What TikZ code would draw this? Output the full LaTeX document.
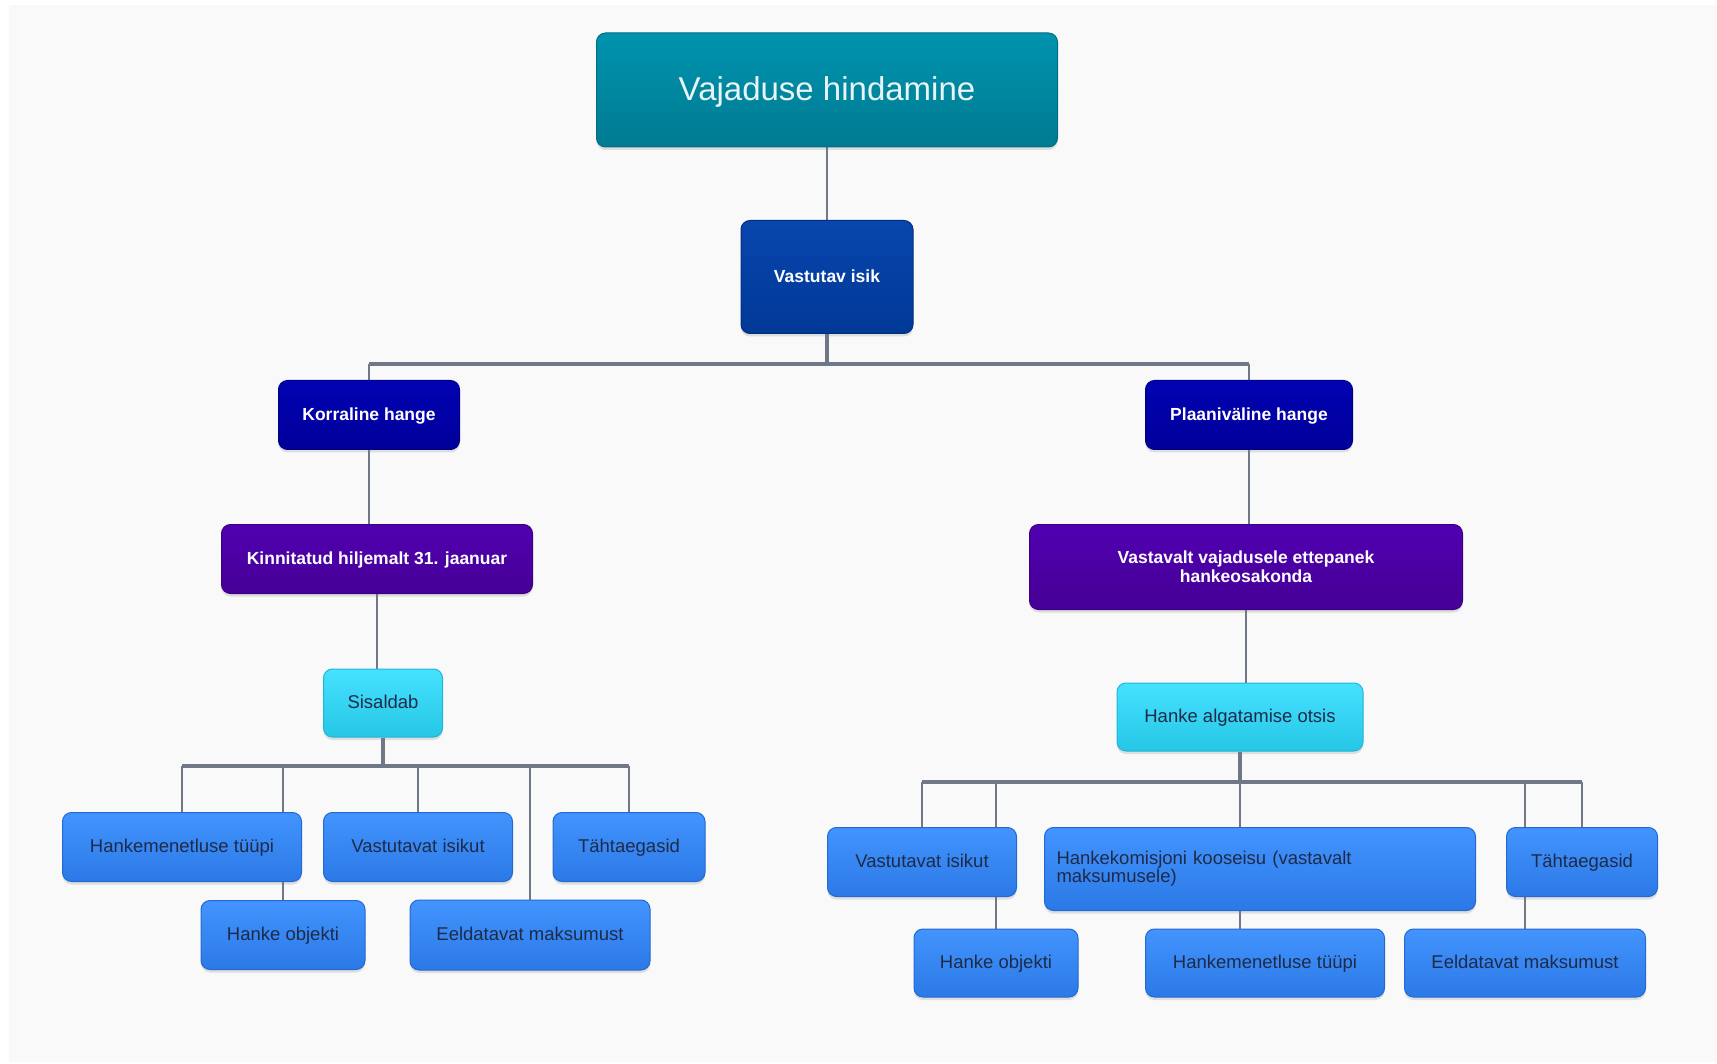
\documentclass[tikz,border=0pt]{standalone}
\usepackage{fontspec}
\setmainfont{Liberation Sans}
\usepackage{xcolor}
\usetikzlibrary{shadows}

\definecolor{paper}{HTML}{F9F9F9}
\definecolor{wire}{HTML}{707888}
\definecolor{darktext}{HTML}{1E2B48}

\pgfdeclarelayer{paperlayer}
\pgfdeclarelayer{wires}
\pgfsetlayers{paperlayer,wires,main}

\tikzset{
  box/.style={rounded corners=9pt, inner sep=0pt, align=center, line width=1pt,
    text depth=0.42ex,
    drop shadow={opacity=0.22, shadow xshift=0pt, shadow yshift=-3pt}},
  twolines/.style={text depth=},
  titlebox/.style={box, top color={rgb,255:red,0;green,147;blue,174},
    bottom color={rgb,255:red,0;green,123;blue,146}, draw={rgb,255:red,0;green,110;blue,131},
    text={rgb,255:red,232;green,244;blue,246}, font=\fontsize{33}{40}\selectfont},
  personbox/.style={box, top color={rgb,255:red,8;green,70;blue,174},
    bottom color={rgb,255:red,0;green,56;blue,150}, draw={rgb,255:red,0;green,48;blue,127},
    text=white, font=\bfseries\fontsize{17.5}{20}\selectfont},
  kindbox/.style={box, top color={rgb,255:red,2;green,2;blue,178},
    bottom color={rgb,255:red,0;green,0;blue,154}, draw={rgb,255:red,0;green,0;blue,128},
    text=white, font=\bfseries\fontsize{17.5}{20}\selectfont},
  groupbox/.style={box, top color={rgb,255:red,80;green,0;blue,176},
    bottom color={rgb,255:red,70;green,0;blue,150}, draw={rgb,255:red,60;green,0;blue,130},
    text=white, font=\bfseries\fontsize{17.5}{19}\selectfont},
  notebox/.style={box, top color={rgb,255:red,69;green,226;blue,255},
    bottom color={rgb,255:red,38;green,198;blue,230}, draw={rgb,255:red,34;green,181;blue,213},
    text=darktext, font=\fontsize{18.5}{22}\selectfont},
  itembox/.style={box, top color={rgb,255:red,67;green,148;blue,255},
    bottom color={rgb,255:red,43;green,121;blue,230}, draw={rgb,255:red,35;green,106;blue,208},
    text=darktext, font=\fontsize{18.5}{17}\selectfont},
  link/.style={draw=wire, line width=2pt},
  bus/.style={draw=wire, line width=3.5pt}
}

\begin{document}
\begin{tikzpicture}[x=1pt,y=-1pt]
  \useasboundingbox (0,0) rectangle (1717,1064);
  \begin{pgfonlayer}{paperlayer}
    \fill[white] (0,0) rectangle (1717,1064);
    \fill[paper] (9,5) rectangle (1717,1062);
  \end{pgfonlayer}

  % Top of the tree
  \node[titlebox, minimum width=461pt, minimum height=114pt] (title) at (827,90) {Vajaduse hindamine};
  \node[personbox, minimum width=172pt, minimum height=113pt] (vast) at (827,277) {Vastutav isik};

  % Two kinds of procurement
  \node[kindbox, minimum width=181pt, minimum height=69pt] (korr) at (369,415) {Korraline hange};
  \node[kindbox, minimum width=207pt, minimum height=69pt] (plaan) at (1249,415) {Plaaniväline hange};

  \node[groupbox, minimum width=311pt, minimum height=69pt] (kinn) at (377,559) {Kinnitatud hiljemalt 31. jaanuar};
  \node[groupbox, twolines, minimum width=433pt, minimum height=85pt] (vastav) at (1246,567) {Vastavalt vajadusele ettepanek\\hankeosakonda};

  \node[notebox, minimum width=119pt, minimum height=68pt] (sis) at (383,703) {Sisaldab};
  \node[notebox, minimum width=246pt, minimum height=68pt] (algat) at (1240,717) {Hanke algatamise otsis};

  % Left leaves
  \node[itembox, minimum width=239pt, minimum height=69pt] (hmenL) at (182,847) {Hankemenetluse tüüpi};
  \node[itembox, minimum width=189pt, minimum height=69pt] (vastL) at (418,847) {Vastutavat isikut};
  \node[itembox, minimum width=152pt, minimum height=69pt] (tahtL) at (629,847) {Tähtaegasid};
  \node[itembox, minimum width=164pt, minimum height=69pt] (objL) at (283,935) {Hanke objekti};
  \node[itembox, minimum width=240pt, minimum height=70pt] (eeldL) at (530,935) {Eeldatavat maksumust};

  % Right leaves
  \node[itembox, minimum width=189pt, minimum height=69pt] (vastR) at (922,862) {Vastutavat isikut};
  \node[itembox, twolines, minimum width=431pt, minimum height=83pt, text width=407pt, align=left] (hkom) at (1260,869)
    {Hankekomisjoni kooseisu (vastavalt\\maksumusele)};
  \node[itembox, minimum width=151pt, minimum height=69pt] (tahtR) at (1582,862) {Tähtaegasid};
  \node[itembox, minimum width=164pt, minimum height=68pt] (objR) at (996,963) {Hanke objekti};
  \node[itembox, minimum width=239pt, minimum height=68pt] (hmenR) at (1265,963) {Hankemenetluse tüüpi};
  \node[itembox, minimum width=241pt, minimum height=68pt] (eeldR) at (1525,963) {Eeldatavat maksumust};

  \coordinate (hub1) at (827,364);
  \coordinate (hub2) at (383,766);
  \coordinate (hub3) at (1240,782);

  % Connectors
  \begin{pgfonlayer}{wires}
    \draw[link] (title.south) -- (vast.north);
    \draw[bus] (vast.south) -- (hub1);
    \draw[bus] (korr.north |- hub1) -- (plaan.north |- hub1);
    \foreach \n in {korr,plaan}
      \draw[link] (\n.north |- hub1) -- (\n.north);
    \draw[link] (korr.south) -- (korr.south |- kinn.north);
    \draw[link] (kinn.south) -- (kinn.south |- sis.north);
    \draw[link] (plaan.south) -- (plaan.south |- vastav.north);
    \draw[link] (vastav.south) -- (vastav.south |- algat.north);

    \draw[bus] (sis.south) -- (hub2);
    \draw[bus] (hmenL.north |- hub2) -- (tahtL.north |- hub2);
    \foreach \n in {hmenL,objL,vastL,eeldL,tahtL}
      \draw[link] (\n.north |- hub2) -- (\n.north);

    \draw[bus] (algat.south) -- (hub3);
    \draw[bus] (vastR.north |- hub3) -- (tahtR.north |- hub3);
    \foreach \n in {vastR,objR,eeldR,tahtR}
      \draw[link] (\n.north |- hub3) -- (\n.north);
    \draw[link] (hub3) -- (hub3 |- hmenR.north);
  \end{pgfonlayer}
\end{tikzpicture}
\end{document}
